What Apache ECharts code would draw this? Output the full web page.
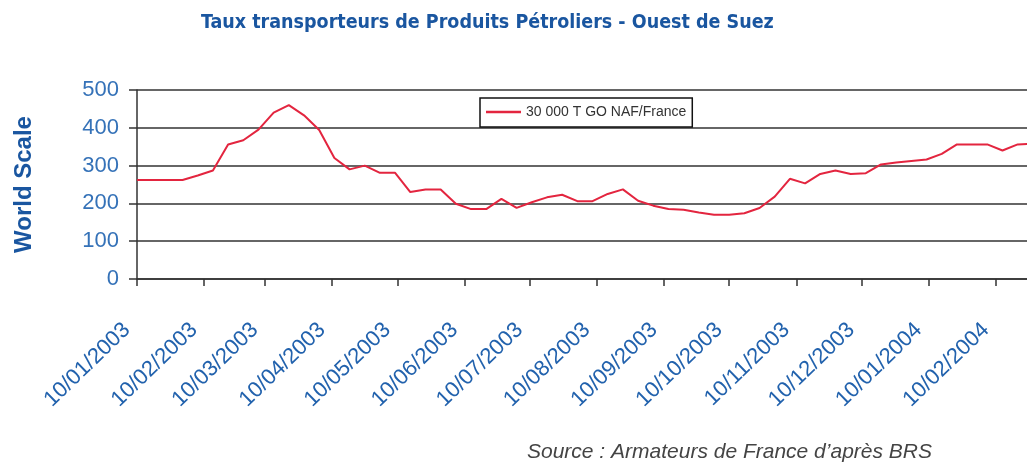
<!DOCTYPE html>
<html>
<head>
<meta charset="utf-8">
<script src="https://cdn.jsdelivr.net/npm/echarts@6/dist/echarts.min.js"></script>
<style>
  html, body { margin: 0; padding: 0; background: #fff; }
  #chart { width: 1027px; height: 470px; }
</style>
</head>
<body>
<div id="chart"></div>
<script>
  // relevés hebdomadaires
  const weeks = [
    '2003-01-10', '2003-01-17', '2003-01-24', '2003-01-31',
    '2003-02-07', '2003-02-14', '2003-02-21', '2003-02-28',
    '2003-03-07', '2003-03-14', '2003-03-21', '2003-03-28',
    '2003-04-04', '2003-04-11', '2003-04-18', '2003-04-25',
    '2003-05-02', '2003-05-09', '2003-05-16', '2003-05-23', '2003-05-30',
    '2003-06-06', '2003-06-13', '2003-06-20', '2003-06-27',
    '2003-07-04', '2003-07-11', '2003-07-18', '2003-07-25',
    '2003-08-01', '2003-08-08', '2003-08-15', '2003-08-22', '2003-08-29',
    '2003-09-05', '2003-09-12', '2003-09-19', '2003-09-26',
    '2003-10-03', '2003-10-10', '2003-10-17', '2003-10-24', '2003-10-31',
    '2003-11-07', '2003-11-14', '2003-11-21', '2003-11-28',
    '2003-12-05', '2003-12-12', '2003-12-19', '2003-12-26',
    '2004-01-02', '2004-01-09', '2004-01-16', '2004-01-23', '2004-01-30',
    '2004-02-06', '2004-02-13', '2004-02-20', '2004-02-27'
  ]

  const nafFrance = [
    262, 262, 262, 262, 274, 287, 356, 367, 395, 440,
    460, 433, 394, 320, 290, 300, 281, 281, 230, 237,
    237, 199, 185, 185, 212, 188, 203, 216, 223, 206,
    206, 225, 237, 207, 194, 185, 183, 176, 170, 170,
    174, 188, 218, 265, 253, 278, 287, 278, 280, 303,
    308, 312, 316, 331, 356, 356, 356, 340, 356, 358
  ]

  const tickLabels = [
    '10/01/2003', '10/02/2003', '10/03/2003', '10/04/2003', '10/05/2003',
    '10/06/2003', '10/07/2003', '10/08/2003', '10/09/2003', '10/10/2003',
    '10/11/2003', '10/12/2003', '10/01/2004', '10/02/2004'
  ]

  const yTicks = [0, 100, 200, 300, 400, 500]

  const seriesName = '30 000 T GO NAF/France'

  const DAY = 86400000

  // aaaa-mm-jj -> jours depuis l'origine (UTC, pas de souci d'heure d'été)
  const isoDay = function (s) {
    const p = s.split('-')
    return Date.UTC(+p[0], +p[1] - 1, +p[2]) / DAY
  }
  // jj/mm/aaaa -> idem
  const frDay = function (s) {
    const p = s.split('/')
    return Date.UTC(+p[2], +p[1] - 1, +p[0]) / DAY
  }
  const tickDays = tickLabels.map(frDay)

  const chart = echarts.init(document.getElementById('chart'))

  chart.setOption({
    animation: false,
    backgroundColor: '#fff',
    title: {
      text: 'Taux transporteurs de Produits Pétroliers - Ouest de Suez',
      left: 196,
      top: 8,
      textStyle: {
        fontFamily: '"Liberation Sans Narrow", "DejaVu Sans Condensed", "Liberation Sans"',
        fontWeight: 'bold',
        fontSize: 19.5,
        color: '#1a56a0'
      }
    },
    legend: {
      left: 480,
      top: 98,
      padding: [7, 6, 8, 6],
      borderColor: '#111',
      borderWidth: 1.5,
      backgroundColor: '#fff',
      icon: 'rect',
      itemWidth: 35,
      itemHeight: 2.5,
      textStyle: {
        fontFamily: '"Liberation Sans", Arial',
        fontSize: 14,
        color: '#333',
        lineHeight: 14
      },
      data: [seriesName]
    },
    grid: {
      left: 137,
      right: 0,
      top: 90,
      bottom: 191
    },
    xAxis: {
      type: 'value',
      min: tickDays[0],
      max: tickDays[tickDays.length - 1] + 14.3,
      axisLine: {
        lineStyle: {color: '#333', width: 1.5}
      },
      axisTick: {
        customValues: tickDays,
        length: 7,
        lineStyle: {color: '#333', width: 1.5}
      },
      axisLabel: {
        customValues: tickDays,
        formatter: function (v) {
          const i = tickDays.indexOf(v)
          return i >= 0 ? tickLabels[i] : ''
        },
        rotate: 44,
        margin: 38,
        padding: [0, 14, 0, 0],
        fontFamily: '"Liberation Sans", Arial',
        fontSize: 22,
        color: '#2262ad'
      },
      splitLine: {show: false}
    },
    yAxis: {
      type: 'value',
      min: yTicks[0],
      max: yTicks[yTicks.length - 1],
      interval: 100,
      name: 'World Scale',
      nameLocation: 'middle',
      nameGap: 101,
      nameTextStyle: {
        fontFamily: '"Liberation Sans", Arial',
        fontWeight: 'bold',
        fontSize: 24,
        color: '#1a56a0'
      },
      axisLine: {
        show: true,
        lineStyle: {color: '#333', width: 1.5}
      },
      axisTick: {
        show: true,
        length: 8,
        lineStyle: {color: '#333', width: 1.5}
      },
      axisLabel: {
        margin: 18,
        fontFamily: '"Liberation Sans", Arial',
        fontSize: 22,
        color: '#3572b8'
      },
      splitLine: {
        lineStyle: {color: '#333', width: 1.5}
      }
    },
    graphic: [
      {
        type: 'text',
        left: 527,
        top: 442,
        style: {
          text: 'Source : Armateurs de France d\u2019après BRS',
          font: 'italic 21px "Liberation Sans", Arial',
          fill: '#444'
        }
      }
    ],
    series: [
      {
        name: seriesName,
        type: 'line',
        symbol: 'none',
        data: weeks.map(function (d, i) {
          return [isoDay(d), nafFrance[i]]
        }),
        itemStyle: {color: '#e3253f'},
        lineStyle: {color: '#e3253f', width: 2}
      }
    ]
  })
</script>
</body>
</html>
